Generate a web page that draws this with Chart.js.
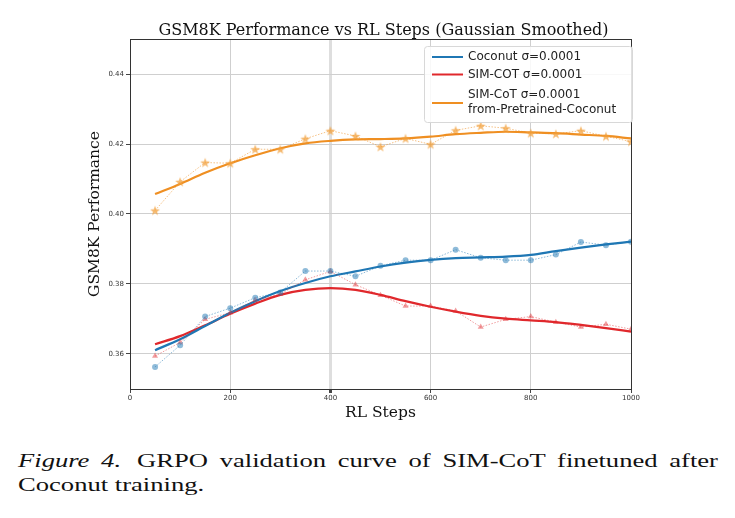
<!DOCTYPE html>
<html>
<head>
<meta charset="utf-8">
<script src="https://cdn.jsdelivr.net/npm/chart.js@4"></script>
<style>
  body { margin: 0; background: #fff; width: 735px; height: 518px; overflow: hidden; position: relative; }
  #wrap { position: absolute; left: 0; top: 0; width: 735px; height: 430px; }
  #caption {
    position: absolute; left: 18px; top: 449px; width: 500px;
    transform: scaleX(1.40); transform-origin: left top;
    font-family: "Liberation Serif", serif; font-size: 19px; line-height: 24px;
    color: #111;
  }
  #caption .l1 { display: block; text-align: justify; text-align-last: justify; white-space: nowrap; }
  #caption i { margin-right: 3px; }
</style>
</head>
<body>
<div id="wrap"><canvas id="chart" width="735" height="430"></canvas></div>
<div id="caption"><span class="l1"><i>Figure 4.</i> GRPO validation curve of SIM-CoT finetuned after</span>Coconut training.</div>
<script>
// RL steps (x) and tick values
const steps = [50, 100, 150, 200, 250, 300, 350, 400, 450, 500, 550, 600, 650, 700, 750, 800, 850, 900, 950, 1000];
const xTicks = [0, 200, 400, 600, 800, 1000];
const yTicks = [0.36, 0.38, 0.40, 0.42, 0.44];

// Coconut σ=0.0001
const coconutRaw = [0.3563, 0.3625, 0.3707, 0.3731, 0.3761, 0.3776, 0.3837, 0.3837, 0.3822, 0.3852,
                    0.3868, 0.3868, 0.3898, 0.3875, 0.3868, 0.3868, 0.3884, 0.3920, 0.3911, 0.3921];
const coconutSmooth = [0.3611, 0.3642, 0.3680, 0.3718, 0.3751, 0.3780, 0.3803, 0.3822, 0.3836, 0.3850,
                       0.3861, 0.3869, 0.3874, 0.3876, 0.3878, 0.3883, 0.3894, 0.3904, 0.3913, 0.3921];

// SIM-COT σ=0.0001
const simcotRaw = [0.3594, 0.3633, 0.3699, 0.3718, 0.3754, 0.3771, 0.3812, 0.3836, 0.3798, 0.3768,
                   0.3737, 0.3737, 0.3723, 0.3677, 0.3699, 0.3707, 0.3691, 0.3677, 0.3685, 0.3671];
const simcotSmooth = [0.3628, 0.3651, 0.3682, 0.3715, 0.3744, 0.3769, 0.3783, 0.3788, 0.3783, 0.3769,
                      0.3751, 0.3735, 0.3721, 0.3709, 0.3701, 0.3696, 0.3691, 0.3683, 0.3674, 0.3664];

// SIM-CoT σ=0.0001 from-Pretrained-Coconut
const fromPreRaw = [0.4010, 0.4092, 0.4147, 0.4145, 0.4185, 0.4185, 0.4215, 0.4238, 0.4223, 0.4192,
                    0.4216, 0.4199, 0.4239, 0.4252, 0.4245, 0.4231, 0.4229, 0.4238, 0.4222, 0.4207];
const fromPreSmooth = [0.4057, 0.4086, 0.4118, 0.4145, 0.4168, 0.4188, 0.4202, 0.4209, 0.4213, 0.4214,
                       0.4216, 0.4221, 0.4228, 0.4232, 0.4235, 0.4233, 0.4231, 0.4227, 0.4223, 0.4216];

const chartTitle = "GSM8K Performance vs RL Steps (Gaussian Smoothed)";
const BLUE = "#1f77b4", RED = "#e0282c", ORANGE = "#ef8f22";

function pts(arr) {
    return steps.map((s, i) => ({ x: s, y: arr[i] }));
}

// filled star marker, like matplotlib '*'
function starMarker(color) {
    const c = document.createElement("canvas");
    c.width = 12; c.height = 12;
    const g = c.getContext("2d");
    g.beginPath();
    for (let i = 0; i < 10; i++) {
        const r = i % 2 === 0 ? 5.2 : 2.1;
        const a = -Math.PI / 2 + i * Math.PI / 5;
        g.lineTo(6 + r * Math.cos(a), 6.5 + r * Math.sin(a));
    }
    g.closePath();
    g.fillStyle = color;
    g.fill();
    return c;
}

function rawSet(arr, color, marker, radius) {
    return {
        data: pts(arr),
        borderColor: color,
        backgroundColor: color,
        borderWidth: 1,
        borderDash: [1.5, 1.5],
        pointStyle: marker,
        pointRadius: radius,
        pointBorderWidth: 0,
        tension: 0,
        inLegend: false,
    };
}

function smoothSet(arr, color, label) {
    return {
        label: label,
        data: pts(arr),
        borderColor: color,
        backgroundColor: color,
        borderWidth: 2.2,
        pointRadius: 0,
        cubicInterpolationMode: "monotone",
        inLegend: true,
    };
}

// frame around plot area (all four spines) + title centred over the axes
const framePlugin = {
    id: "frame",
    afterDatasetsDraw(chart) {
        const a = chart.chartArea, ctx = chart.ctx;
        ctx.save();
        ctx.strokeStyle = "#333";
        ctx.lineWidth = 1;
        ctx.strokeRect(Math.round(a.left) + 0.5, Math.round(a.top) + 0.5,
            Math.round(a.right - a.left), Math.round(a.bottom - a.top));
        ctx.font = "16px 'DejaVu Serif'";
        ctx.fillStyle = "#111";
        ctx.textAlign = "center";
        ctx.textBaseline = "alphabetic";
        ctx.fillText(chartTitle, (a.left + a.right) / 2 + 3, a.top - 4);
        ctx.restore();
    },
};

// legend inside the top-right corner
const legendPlugin = {
    id: "innerLegend",
    afterDraw(chart) {
        const ctx = chart.ctx;
        const items = chart.data.datasets.filter(d => d.inLegend);
        const x0 = 424, y0 = 46, w = 208, h = 76;
        ctx.save();
        ctx.fillStyle = "rgba(255,255,255,0.85)";
        ctx.strokeStyle = "#d8d8d8";
        ctx.lineWidth = 1;
        ctx.beginPath();
        ctx.roundRect(x0 + 0.5, y0 + 0.5, w, h, 3);
        ctx.fill();
        ctx.stroke();
        ctx.font = "12px 'DejaVu Sans'";
        ctx.textBaseline = "middle";
        ctx.fillStyle = "#222";
        const rows = [[57], [74.5], [95, 109.5]];
        const handleY = [57, 74.5, 103];
        items.forEach((d, i) => {
            ctx.strokeStyle = d.borderColor;
            ctx.lineWidth = 2;
            ctx.beginPath();
            ctx.moveTo(432, handleY[i]);
            ctx.lineTo(463, handleY[i]);
            ctx.stroke();
            const lines = Array.isArray(d.label) ? d.label : [d.label];
            lines.forEach((t, j) => ctx.fillText(t, 468, rows[i][j]));
        });
        ctx.restore();
    },
};

new Chart(document.getElementById("chart"), {
    type: "line",
    data: {
        datasets: [
            rawSet(coconutRaw, "rgba(31,119,180,0.5)", "circle", 3),
            rawSet(simcotRaw, "rgba(224,40,44,0.45)", "triangle", 3.5),
            rawSet(fromPreRaw, "rgba(239,143,34,0.55)", starMarker("rgba(241,160,60,0.75)"), 6),
            smoothSet(coconutSmooth, BLUE, "Coconut σ=0.0001"),
            smoothSet(simcotSmooth, RED, "SIM-COT σ=0.0001"),
            smoothSet(fromPreSmooth, ORANGE, ["SIM-CoT σ=0.0001", "from-Pretrained-Coconut"]),
        ],
    },
    options: {
        responsive: false,
        animation: false,
        layout: { padding: { left: 85, right: 104, top: 39, bottom: 3 } },
        plugins: {
            legend: { display: false },
            tooltip: { enabled: false },
            title: { display: false },
        },
        scales: {
            x: {
                type: "linear",
                min: 0,
                max: 1000,
                afterFit: s => { s.height = 38; },
                afterBuildTicks: s => { s.ticks = xTicks.map(v => ({ value: v })); },
                grid: {
                    color: ctx => ctx.tick && ctx.tick.value === 400 ? "rgba(200,200,200,0.6)" : "#cfcfcf",
                    lineWidth: ctx => ctx.tick && ctx.tick.value === 400 ? 3 : 1,
                    tickLength: 4,
                    tickColor: "#444",
                },
                border: { display: false },
                ticks: {
                    font: { family: "'DejaVu Sans'", size: 7 },
                    color: "#333",
                    padding: 1,
                    maxRotation: 0,
                    callback: v => String(v),
                },
                title: {
                    display: true,
                    text: "RL Steps",
                    font: { family: "'DejaVu Serif'", size: 15.5 },
                    color: "#111",
                    padding: { top: 0, bottom: 5 },
                },
            },
            y: {
                min: 0.35,
                max: 0.45,
                afterFit: s => { s.width = 45; },
                afterBuildTicks: s => { s.ticks = yTicks.map(v => ({ value: v })); },
                grid: { color: "#cfcfcf", lineWidth: 1, tickLength: 4, tickColor: "#444" },
                border: { display: false },
                ticks: {
                    font: { family: "'DejaVu Sans'", size: 7 },
                    color: "#333",
                    padding: 2,
                    callback: v => v.toFixed(2),
                },
                title: {
                    display: true,
                    text: "GSM8K Performance",
                    font: { family: "'DejaVu Serif'", size: 15.5 },
                    color: "#111",
                    padding: { top: 1, bottom: 0 },
                },
            },
        },
    },
    plugins: [framePlugin, legendPlugin],
});
</script>
</body>
</html>
